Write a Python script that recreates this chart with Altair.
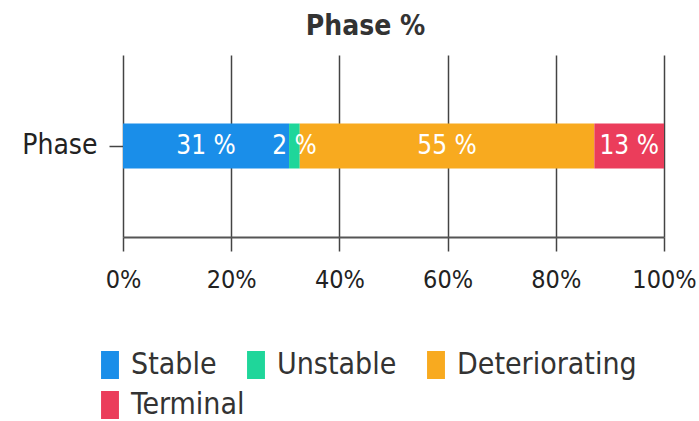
import altair as alt
import pandas as pd

categories = ["Stable", "Unstable", "Deteriorating", "Terminal"]
values = [31, 2, 55, 13]
colors = ["#1a8ee9", "#1fd69a", "#f8aa1f", "#eb3d5b"]
row_label = "Phase"
ticks = [0, 0.2, 0.4, 0.6, 0.8, 1.0]

FONT = "DejaVu Sans Condensed, Liberation Sans Narrow, DejaVu Sans"
SYM = "M-0.64,-1L0.64,-1L0.64,1L-0.64,1Z"

df = pd.DataFrame({
    "phase": categories,
    "value": values,
    "order": list(range(len(categories))),
    "row": [row_label] * len(categories),
})

base = alt.Chart(df).transform_stack(
    stack="value", groupby=["row"], as_=["x0", "x1"], offset="normalize",
    sort=[alt.SortField("order", order="ascending")]
).transform_calculate(
    mid="(datum.x0 + datum.x1) / 2",
    lbl="datum.value + ' %'"
)

yenc = alt.Y("row:N", title=None,
             axis=alt.Axis(domain=False, tickSize=14, tickWidth=1.5, tickColor="#444",
                           labelFontSize=28, labelFont=FONT, labelColor="#222",
                           labelPadding=12, grid=False))

legend_common = dict(title=None, orient="none", direction="horizontal",
                     symbolType=SYM, symbolSize=784, symbolStrokeWidth=0,
                     symbolOpacity=1, labelFontSize=30, labelFont=FONT,
                     labelColor="#333", labelOffset=6, columnPadding=24,
                     labelLimit=300)

bars = base.mark_bar(size=45).encode(
    x=alt.X("x0:Q", title=None, scale=alt.Scale(domain=[0, 1]),
            axis=alt.Axis(format=".0%", values=ticks, grid=True, gridColor="#444",
                          gridWidth=1.5, domainColor="#555", domainWidth=2,
                          tickSize=14, tickWidth=1.5, tickColor="#444",
                          labelFontSize=25, labelFont=FONT, labelColor="#222",
                          labelPadding=16, labelFlush=False)),
    x2="x1:Q",
    y=yenc,
    color=alt.Color("phase:N", scale=alt.Scale(domain=categories, range=colors),
                    sort=categories,
                    legend=alt.Legend(values=categories[:3], legendX=-28, legendY=295,
                                      **legend_common)),
)

# second legend row (Terminal) through an invisible layer on the fill channel
second = base.transform_filter(
    alt.datum.phase == categories[3]
).mark_square(size=0, filled=True).encode(
    x=alt.X("mid:Q"),
    y=alt.Y("row:N"),
    fill=alt.Fill("phase:N", scale=alt.Scale(domain=categories[3:], range=colors[3:]),
                  legend=alt.Legend(legendX=-28, legendY=335, **legend_common)),
)

texts = base.mark_text(fontSize=26, font=FONT, color="white", align="center",
                       baseline="middle").encode(
    x=alt.X("mid:Q"),
    y=alt.Y("row:N"),
    text="lbl:N",
)

chart = alt.layer(bars, second, texts).properties(
    width=541, height=182,
    title=alt.TitleParams("Phase %", fontSize=28, font=FONT, fontWeight="bold",
                          color="#333", offset=14, dx=-28, anchor="middle"),
    autosize=alt.AutoSizeParams(type="none"),
    padding={"left": 123, "top": 55, "right": 35, "bottom": 184},
).configure_view(stroke=None)

chart.save("out.html", embed_options={"renderer": "svg", "actions": False})
